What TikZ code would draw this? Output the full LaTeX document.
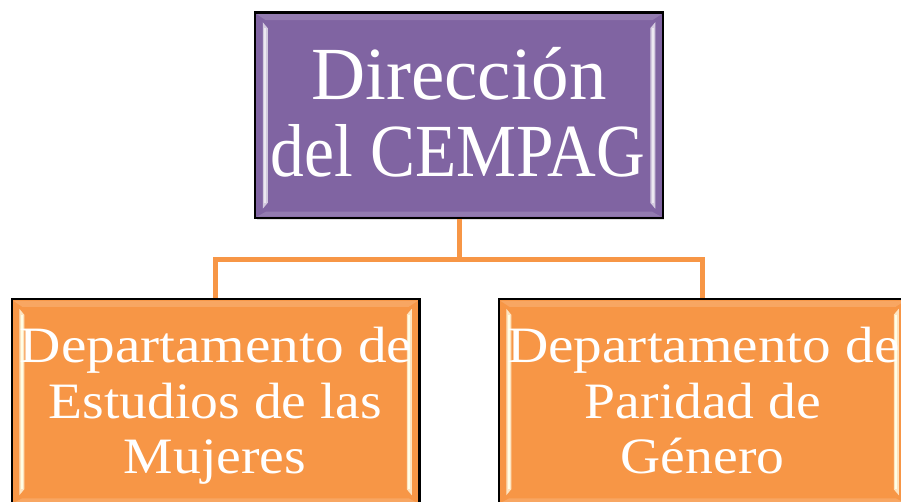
\documentclass[tikz,border=0pt]{standalone}
\usepackage{fontspec}
\usetikzlibrary{shadows}
\newfontfamily\topfont{Liberation Serif}
\newfontfamily\lowfont[FakeStretch=1.09]{Liberation Serif}
\definecolor{boxpurple}{HTML}{8064A2}
\definecolor{boxorange}{HTML}{F79646}
\definecolor{lineorange}{HTML}{F79646}
\tikzset{
  orgbox/.style={draw=black, line width=1.5pt, minimum width=407pt, minimum height=205pt,
    inner sep=0pt, drop shadow={opacity=0.25, shadow xshift=1.5pt, shadow yshift=-2pt}},
  toptext/.style={anchor=base, text=white, inner sep=0pt, font=\topfont\fontsize{75}{75}\selectfont},
  lowtext/.style={anchor=base, text=white, inner sep=0pt, font=\lowfont\fontsize{51}{51}\selectfont},
  conn/.style={draw=lineorange, line width=5pt}
}
\newcommand\mybevel[3]{%
  % #1 node, #2 face colour, #3 highlight colour
  \fill[#2] ([xshift=2pt,yshift=-2pt]#1.north west) -- ([xshift=-2pt,yshift=-2pt]#1.north east)
    -- ([xshift=-11pt,yshift=-8pt]#1.north east) -- ([xshift=11pt,yshift=-8pt]#1.north west) -- cycle;
  \fill[#2] ([xshift=2pt,yshift=2pt]#1.south west) -- ([xshift=-2pt,yshift=2pt]#1.south east)
    -- ([xshift=-11pt,yshift=7pt]#1.south east) -- ([xshift=11pt,yshift=7pt]#1.south west) -- cycle;
  \fill[#3!70!#2] ([xshift=8pt,yshift=-10pt]#1.north west) -- ([xshift=13pt,yshift=-16pt]#1.north west)
    -- ([xshift=13pt,yshift=16pt]#1.south west) -- ([xshift=8pt,yshift=10pt]#1.south west) -- cycle;
  \fill[#3!70!#2] ([xshift=-8pt,yshift=-10pt]#1.north east) -- ([xshift=-13pt,yshift=-16pt]#1.north east)
    -- ([xshift=-13pt,yshift=16pt]#1.south east) -- ([xshift=-8pt,yshift=10pt]#1.south east) -- cycle;
  \fill[#3] ([xshift=9.5pt,yshift=-16pt]#1.north west) rectangle ([xshift=11.5pt,yshift=16pt]#1.south west);
  \fill[#3] ([xshift=-9.5pt,yshift=-16pt]#1.north east) rectangle ([xshift=-11.5pt,yshift=16pt]#1.south east);
}
\begin{document}
\begin{tikzpicture}[x=1pt,y=-1pt]
\useasboundingbox (0,0) rectangle (901,502);
\clip (0,0) rectangle (901,502);
\fill[white] (0,0) rectangle (901,502);
% boxes
\node[orgbox, fill=boxpurple] (top) at (459,115.5) {};
\node[orgbox, fill=boxorange] (left) at (215.5,402) {};
\node[orgbox, fill=boxorange] (right) at (702.5,402) {};
% connectors
\coordinate (bus) at (459,260);
\draw[conn] (top.south) -- (bus);
\draw[conn] (bus) -| (left.north);
\draw[conn] (bus) -| (right.north);
% bevels and borders
\mybevel{top}{boxpurple!85!white}{boxpurple!15!white}
\mybevel{left}{boxorange!85!white}{boxorange!10!yellow!10!white}
\mybevel{right}{boxorange!85!white}{boxorange!10!yellow!10!white}
\draw[black, line width=1.5pt] (top.north west) rectangle (top.south east);
\draw[black, line width=1.5pt] (left.north west) rectangle (left.south east);
\draw[black, line width=1.5pt] (right.north west) rectangle (right.south east);
% texts
\node[toptext] (t1) at (459,100) {Dirección};
\node[toptext] (t2) at (458,177) {\scalebox{0.9}[1]{del CEMPAG}};
\node[lowtext] (l1) at (216,362) {\scalebox{1.03}[1]{Departamento de}};
\node[lowtext] (l2) at (215.5,418) {Estudios de las};
\node[lowtext] (l3) at (215,473) {Mujeres};
\node[lowtext] (r1) at (703.5,362) {\scalebox{1.03}[1]{Departamento de}};
\node[lowtext] (r2) at (703,418) {Paridad de};
\node[lowtext] (r3) at (702.5,473) {Género};
\end{tikzpicture}
\end{document}
